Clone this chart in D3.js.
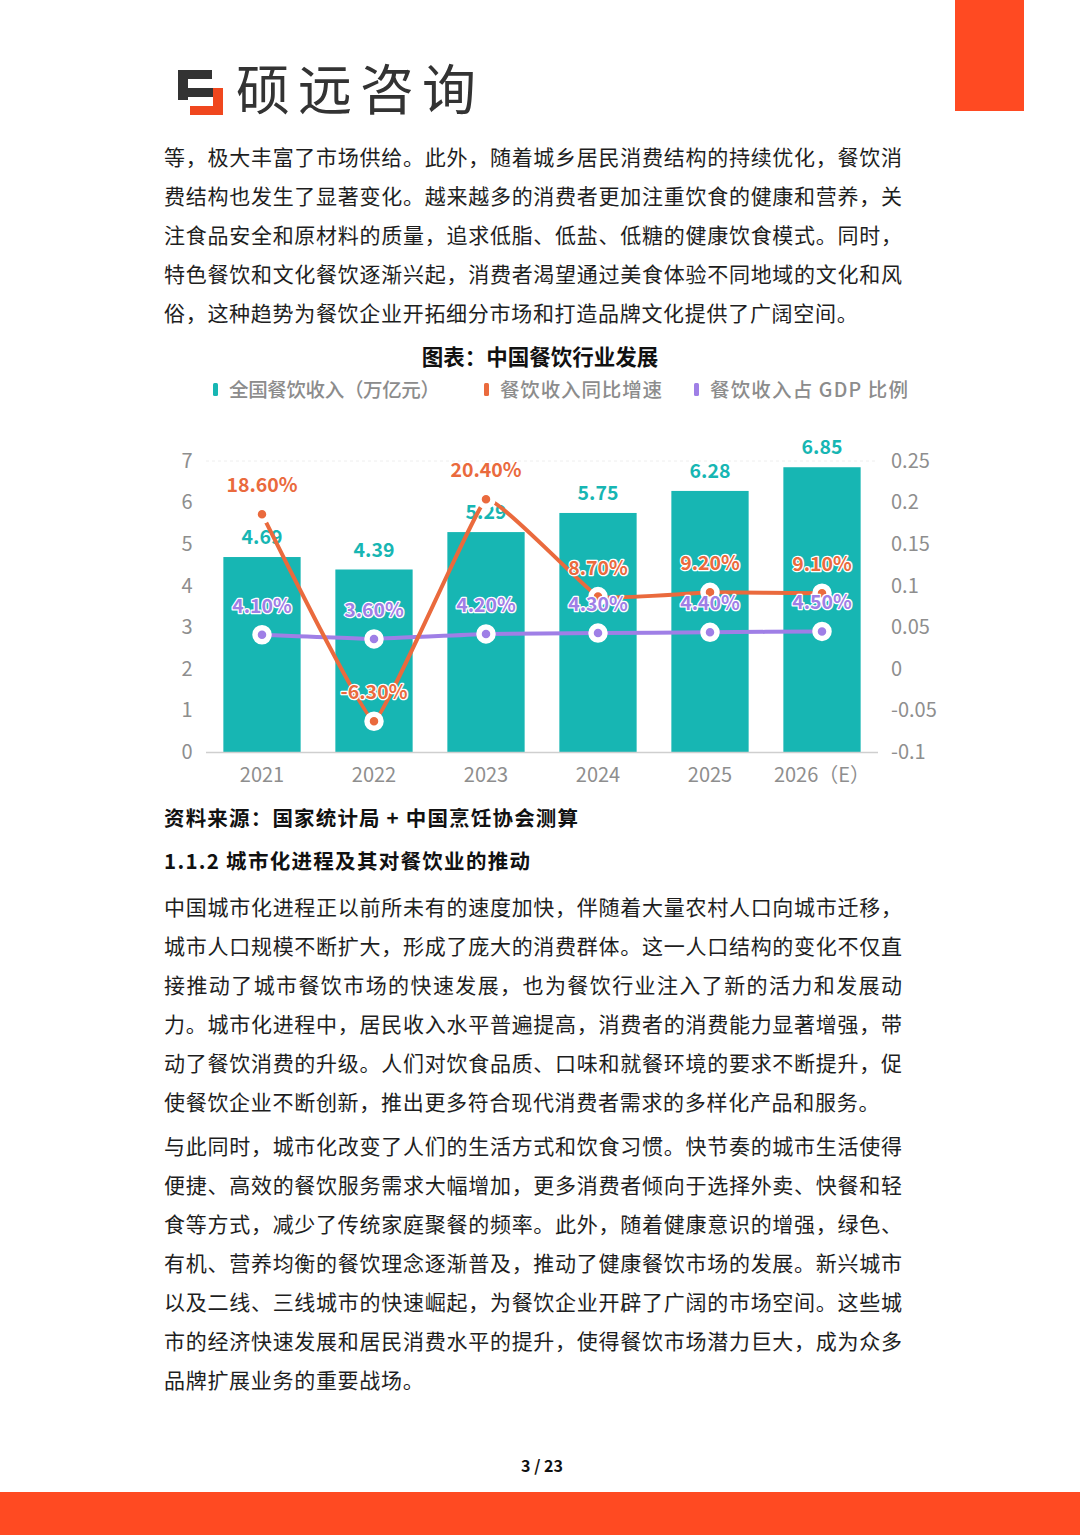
<!DOCTYPE html>
<html><head><meta charset="utf-8">
<script src="https://cdn.jsdelivr.net/npm/d3@7/dist/d3.min.js"></script>
<style>
html,body{margin:0;padding:0;background:#fff;}
svg{display:block;font-family:"Noto Sans CJK SC","Noto Sans",sans-serif;}
</style></head>
<body>
<svg id="page" width="1080" height="1535"></svg>
<script>
// ---------- data ----------
const years = ["2021","2022","2023","2024","2025","2026（E）"];
const revenue = [4.69,4.39,5.29,5.75,6.28,6.85];          // 全国餐饮收入（万亿元）
const growth = [0.186,-0.063,0.204,0.087,0.092,0.091];    // 餐饮收入同比增速
const gdpShare = [0.041,0.036,0.042,0.043,0.044,0.045];   // 餐饮收入占 GDP 比例
const leftTicks = [0,1,2,3,4,5,6,7];
const rightTicks = [-0.1,-0.05,0,0.05,0.1,0.15,0.2,0.25];
const legendItems = ["全国餐饮收入（万亿元）","餐饮收入同比增速","餐饮收入占 GDP 比例"];

const para1 = [
 "等，极大丰富了市场供给。此外，随着城乡居民消费结构的持续优化，餐饮消",
 "费结构也发生了显著变化。越来越多的消费者更加注重饮食的健康和营养，关",
 "注食品安全和原材料的质量，追求低脂、低盐、低糖的健康饮食模式。同时，",
 "特色餐饮和文化餐饮逐渐兴起，消费者渴望通过美食体验不同地域的文化和风",
 "俗，这种趋势为餐饮企业开拓细分市场和打造品牌文化提供了广阔空间。"
];
const para2 = [
 "中国城市化进程正以前所未有的速度加快，伴随着大量农村人口向城市迁移，",
 "城市人口规模不断扩大，形成了庞大的消费群体。这一人口结构的变化不仅直",
 "接推动了城市餐饮市场的快速发展，也为餐饮行业注入了新的活力和发展动",
 "力。城市化进程中，居民收入水平普遍提高，消费者的消费能力显著增强，带",
 "动了餐饮消费的升级。人们对饮食品质、口味和就餐环境的要求不断提升，促",
 "使餐饮企业不断创新，推出更多符合现代消费者需求的多样化产品和服务。"
];
const para3 = [
 "与此同时，城市化改变了人们的生活方式和饮食习惯。快节奏的城市生活使得",
 "便捷、高效的餐饮服务需求大幅增加，更多消费者倾向于选择外卖、快餐和轻",
 "食等方式，减少了传统家庭聚餐的频率。此外，随着健康意识的增强，绿色、",
 "有机、营养均衡的餐饮理念逐渐普及，推动了健康餐饮市场的发展。新兴城市",
 "以及二线、三线城市的快速崛起，为餐饮企业开辟了广阔的市场空间。这些城",
 "市的经济快速发展和居民消费水平的提升，使得餐饮市场潜力巨大，成为众多",
 "品牌扩展业务的重要战场。"
];

// ---------- page ----------
const svg = d3.select("#page");
const ORANGE = "#FF4A22";
const TEAL = "#17B6B3", LINE_OR = "#EA6A3D", PURPLE = "#9F7FE6";

// top-right block and footer
svg.append("rect").attr("x",955).attr("y",0).attr("width",69).attr("height",111).attr("fill",ORANGE);
svg.append("rect").attr("x",0).attr("y",1492).attr("width",1080).attr("height",43).attr("fill",ORANGE);

// logo icon
const logo = svg.append("g");
const dark = "#333";
[[178,70,34,9],[178,70,10,30],[178,88,35,9]].forEach(r=>logo.append("rect").attr("x",r[0]).attr("y",r[1]).attr("width",r[2]).attr("height",r[3]).attr("fill",dark));
[[213,88,10,27],[190,106,33,9]].forEach(r=>logo.append("rect").attr("x",r[0]).attr("y",r[1]).attr("width",r[2]).attr("height",r[3]).attr("fill","#F0471E"));
svg.append("text").attr("x",236).attr("y",110).attr("font-size",54).attr("font-weight",400)
  .attr("fill","#333").attr("textLength",240).attr("lengthAdjust","spacing").text("硕远咨询");

// paragraphs
function para(lines, y0, lastJustify){
  lines.forEach((l,i)=>{
    const t = svg.append("text").attr("x",164).attr("y",y0+i*39+7.5)
      .attr("font-size",21).attr("fill","#1e1e1e").text(l);
    if(i<lines.length-1 || lastJustify) t.attr("textLength",738).attr("lengthAdjust","spacing");
    else t.attr("letter-spacing",0.7);
  });
}
para(para1,157);
para(para2,907);
para(para3,1146);

svg.append("text").attr("x",164).attr("y",825.5).attr("font-size",20.5).attr("font-weight",700)
  .attr("fill","#111").attr("textLength",414).attr("lengthAdjust","spacing").text("资料来源：国家统计局 + 中国烹饪协会测算");
svg.append("text").attr("x",164).attr("y",868.5).attr("font-size",20.5).attr("font-weight",700)
  .attr("fill","#111").attr("textLength",366).attr("lengthAdjust","spacing").text("1.1.2 城市化进程及其对餐饮业的推动");
svg.append("text").attr("x",542).attr("y",1472).attr("font-size",16).attr("font-weight",700)
  .attr("fill","#111").attr("text-anchor","middle").text("3 / 23");

// ---------- chart ----------
svg.append("text").attr("x",540).attr("y",364.5).attr("font-size",21.5).attr("font-weight",700)
  .attr("fill","#111").attr("text-anchor","middle").text("图表：中国餐饮行业发展");

// legend
const legX = [213,484,694], legColors=[TEAL,LINE_OR,PURPLE], legLen=[211,162,198];
legendItems.forEach((d,i)=>{
  svg.append("rect").attr("x",legX[i]).attr("y",383).attr("width",5).attr("height",13).attr("rx",1.5).attr("fill",legColors[i]);
  svg.append("text").attr("x",legX[i]+16).attr("y",396.5).attr("font-size",19.5).attr("font-weight",500)
    .attr("fill","#8c8c8c").attr("textLength",legLen[i]).attr("lengthAdjust","spacing").text(d);
});

const x = d3.scaleBand().domain(years).range([206,878]).paddingInner(0.31).paddingOuter(0.155);
const yL = d3.scaleLinear().domain([0,7]).range([752,461]);
const yR = d3.scaleLinear().domain([-0.1,0.25]).range([752,461]);
const cx = d=>x(d)+x.bandwidth()/2;

// faint top grid line
svg.append("line").attr("x1",206).attr("x2",878).attr("y1",yL(7)).attr("y2",yL(7))
  .attr("stroke","#eeeeee").attr("stroke-dasharray","3,3");

// axes
const axL = svg.append("g").attr("transform","translate(196,0)")
  .call(d3.axisLeft(yL).tickValues(leftTicks).tickSize(0).tickPadding(0).tickFormat(d3.format("d")));
const axR = svg.append("g").attr("transform","translate(891,0)")
  .call(d3.axisRight(yR).tickValues(rightTicks).tickSize(0).tickPadding(0).tickFormat(d=>String(+d.toFixed(2))));
const axB = svg.append("g").attr("transform","translate(0,752)")
  .call(d3.axisBottom(x).tickSize(0).tickPadding(19));
[axL,axR,axB].forEach(a=>{
  a.select(".domain").remove();
  a.selectAll("text").attr("font-size",20).attr("fill","#8e8e8e")
    .attr("font-family","'Noto Sans CJK SC','Noto Sans',sans-serif");
});
axL.selectAll("text").attr("text-anchor","middle").attr("dx",-9);
axB.selectAll("text").attr("dy","0.55em");

// bars
svg.append("g").selectAll("rect").data(years).join("rect")
  .attr("x",d=>x(d)).attr("width",x.bandwidth())
  .attr("y",(d,i)=>yL(revenue[i])).attr("height",(d,i)=>yL(0)-yL(revenue[i]))
  .attr("fill",TEAL);
svg.append("line").attr("x1",206).attr("x2",878).attr("y1",752.5).attr("y2",752.5)
  .attr("stroke","#cfcfcf").attr("stroke-width",1.5);

// bar labels
svg.append("g").selectAll("text").data(years).join("text")
  .attr("x",d=>cx(d)).attr("y",(d,i)=>yL(revenue[i])-13)
  .attr("text-anchor","middle").attr("font-size",19.5).attr("font-weight",700).attr("fill",TEAL)
  .text((d,i)=>revenue[i].toFixed(2));

// lines
const lineGen = arr => d3.line().x((d,i)=>cx(years[i])).y(d=>yR(d)).curve(d3.curveCardinal.tension(0.75))(arr);
svg.append("path").attr("d",lineGen(gdpShare)).attr("fill","none").attr("stroke",PURPLE).attr("stroke-width",4);
svg.append("path").attr("d",lineGen(growth)).attr("fill","none").attr("stroke",LINE_OR).attr("stroke-width",4);

function markers(arr,col){
  svg.append("g").selectAll("circle").data(arr).join("circle")
    .attr("cx",(d,i)=>cx(years[i])).attr("cy",d=>yR(d)).attr("r",7)
    .attr("fill",col).attr("stroke","#fff").attr("stroke-width",5.5);
}
markers(gdpShare,PURPLE);
markers(growth,LINE_OR);

function labels(arr,col){
  svg.append("g").selectAll("text").data(arr).join("text")
    .attr("x",(d,i)=>cx(years[i])).attr("y",d=>yR(d)-22)
    .attr("text-anchor","middle").attr("font-size",19.5).attr("font-weight",700)
    .attr("fill",col).attr("stroke","#fff").attr("stroke-width",2.5).attr("paint-order","stroke")
    .attr("stroke-linejoin","round")
    .text(d=>(d*100).toFixed(2)+"%");
}
labels(gdpShare,PURPLE);
labels(growth,LINE_OR);
</script>
</body></html>
